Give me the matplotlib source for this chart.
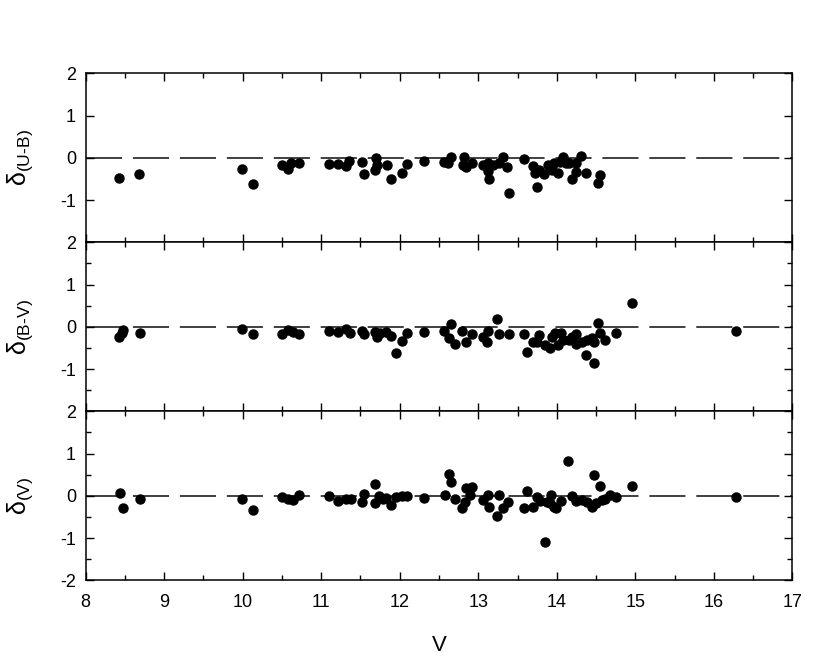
import matplotlib
matplotlib.use("Agg")
import matplotlib.pyplot as plt
from matplotlib.ticker import MultipleLocator, FixedLocator, NullLocator

plt.rcParams['font.family'] = ['Liberation Sans', 'DejaVu Sans']
plt.rcParams['mathtext.fontset'] = 'custom'
plt.rcParams['mathtext.rm'] = 'Liberation Sans'
plt.rcParams['mathtext.it'] = 'Liberation Sans:italic'

# ---- data: delta(U-B) ----
v_ub = [8.43, 8.68, 9.99, 10.13, 10.50, 10.58, 10.61, 10.72, 11.10, 11.21, 11.31, 11.36,
        11.52, 11.54, 11.68, 11.70, 11.71, 11.84, 11.89, 12.03, 12.09, 12.31, 12.56, 12.62,
        12.65, 12.82, 12.81, 12.85, 12.92, 13.06, 13.13, 13.13, 13.14, 13.19, 13.27, 13.32,
        13.36, 13.39, 13.58, 13.70, 13.72, 13.75, 13.77, 13.84, 13.89, 13.94, 13.96, 14.02,
        14.04, 14.08, 14.12, 14.15, 14.20, 14.24, 14.25, 14.31, 14.37, 14.53, 14.55]
d_ub = [-0.47, -0.39, -0.27, -0.62, -0.17, -0.26, -0.13, -0.12, -0.15, -0.15, -0.19, -0.07,
        -0.09, -0.38, -0.29, 0.00, -0.18, -0.16, -0.49, -0.35, -0.15, -0.08, -0.11, -0.13,
        0.01, 0.03, -0.17, -0.21, -0.13, -0.17, -0.13, -0.31, -0.51, -0.17, -0.13, 0.01,
        -0.21, -0.83, -0.04, -0.19, -0.35, -0.68, -0.29, -0.39, -0.17, -0.29, -0.13, -0.37,
        -0.09, 0.03, -0.12, -0.13, -0.51, -0.33, -0.13, 0.04, -0.35, -0.60, -0.41]

# ---- data: delta(B-V) ----
v_bv = [8.43, 8.46, 8.48, 8.69, 9.99, 10.13, 10.50, 10.58, 10.64, 10.72, 11.10, 11.21,
        11.31, 11.37, 11.52, 11.54, 11.68, 11.71, 11.75, 11.83, 11.89, 11.95, 12.03, 12.09,
        12.31, 12.57, 12.65, 12.63, 12.70, 12.79, 12.85, 12.92, 13.06, 13.11, 13.13, 13.24,
        13.26, 13.39, 13.58, 13.62, 13.70, 13.77, 13.75, 13.85, 13.91, 13.94, 13.98, 14.02,
        14.05, 14.08, 14.15, 14.19, 14.25, 14.25, 14.32, 14.38, 14.37, 14.45, 14.48, 14.48,
        14.53, 14.55, 14.62, 14.75, 14.96, 16.28]
d_bv = [-0.25, -0.14, -0.08, -0.14, -0.06, -0.18, -0.18, -0.08, -0.12, -0.17, -0.09, -0.12,
        -0.06, -0.14, -0.09, -0.17, -0.12, -0.25, -0.14, -0.12, -0.22, -0.61, -0.33, -0.14,
        -0.12, -0.10, 0.07, -0.27, -0.41, -0.11, -0.37, -0.17, -0.25, -0.37, -0.11, 0.18,
        -0.17, -0.17, -0.17, -0.60, -0.35, -0.19, -0.35, -0.43, -0.51, -0.23, -0.15, -0.43,
        -0.15, -0.31, -0.31, -0.23, -0.17, -0.41, -0.37, -0.31, -0.67, -0.27, -0.35, -0.86,
        0.10, -0.14, -0.31, -0.15, 0.57, -0.10]

# ---- data: delta(V) ----
v_v = [8.44, 8.48, 8.69, 9.99, 10.13, 10.50, 10.58, 10.64, 10.72, 11.10, 11.21, 11.31,
       11.38, 11.52, 11.54, 11.68, 11.69, 11.74, 11.79, 11.83, 11.89, 11.95, 12.03, 12.09,
       12.31, 12.58, 12.63, 12.65, 12.70, 12.79, 12.83, 12.85, 12.92, 12.90, 13.06, 13.13,
       13.14, 13.24, 13.27, 13.32, 13.38, 13.58, 13.62, 13.70, 13.75, 13.79, 13.85, 13.87,
       13.93, 13.96, 13.99, 13.91, 14.06, 14.14, 14.20, 14.25, 14.32, 14.38, 14.45, 14.48,
       14.50, 14.55, 14.57, 14.62, 14.68, 14.75, 14.96, 16.28]
d_v = [0.07, -0.30, -0.08, -0.08, -0.34, -0.02, -0.08, -0.10, 0.02, 0.00, -0.12, -0.08,
       -0.08, -0.15, 0.04, 0.27, -0.18, 0.00, -0.08, -0.06, -0.22, -0.04, 0.00, 0.00,
       -0.06, 0.02, 0.51, 0.33, -0.08, -0.28, -0.14, 0.18, 0.22, 0.02, -0.10, 0.02,
       -0.26, -0.47, 0.02, -0.30, -0.15, -0.28, 0.12, -0.27, -0.02, -0.12, -1.09, -0.14,
       0.02, -0.26, -0.30, -0.17, -0.12, 0.83, 0.00, -0.12, -0.10, -0.14, -0.26, 0.49,
       -0.17, 0.23, -0.10, -0.08, 0.02, -0.04, 0.24, -0.02]

HY = '\u2010'
panels = [
    (v_ub, d_ub, r'$\mathrm{\delta}_{\mathrm{(U' + HY + r'B)}}$'),
    (v_bv, d_bv, r'$\mathrm{\delta}_{\mathrm{(B' + HY + r'V)}}$'),
    (v_v, d_v, r'$\mathrm{\delta}_{\mathrm{(V)}}$'),
]
y_labels_per_panel = [[2, 1, 0, -1], [2, 1, 0, -1], [2, 1, 0, -1, -2]]

fig = plt.figure(figsize=(8.30, 6.61), dpi=100)
left, right = 85.7 / 830, 792.3 / 830
top_px, bot_px = 73.3, 580.3
ph = (bot_px - top_px) / 3

for i, (xs, ys, lab) in enumerate(panels):
    y0 = 1 - (top_px + (i + 1) * ph) / 661
    ax = fig.add_axes([left, y0, right - left, ph / 661])
    ax.set_xlim(8, 17)
    ax.set_ylim(-2, 2)
    ax.axhline(0, color='#303030', lw=1.3, dashes=(20, 6), zorder=1)
    ax.plot(xs, ys, 'o', color='black', markersize=6.5, zorder=3)
    ax.xaxis.set_major_locator(MultipleLocator(1))
    ax.xaxis.set_minor_locator(MultipleLocator(0.5))
    ax.set_yticks([-2, -1, 0, 1, 2])
    ax.set_yticklabels([str(t) if t in y_labels_per_panel[i] else '' for t in [-2, -1, 0, 1, 2]])
    if i == 0:
        ax.yaxis.set_minor_locator(NullLocator())
    else:
        ax.yaxis.set_minor_locator(MultipleLocator(0.5))
    ax.tick_params(which='both', direction='in', left=True, right=True,
                   top=True, bottom=True, labelsize=13, width=1.0)
    ax.tick_params(which='major', length=5.5)
    ax.tick_params(which='minor', length=3.4)
    ax.tick_params(axis='y', which='major', pad=7)
    ax.tick_params(axis='x', which='major', pad=10)
    if i != 2:
        ax.tick_params(axis='x', labelbottom=False)
    for s in ax.spines.values():
        s.set_linewidth(1.1)
    ax.set_ylabel(lab, fontsize=18)
    ax.yaxis.set_label_coords(-0.072, 0.5)
    if i == 2:
        ax.set_xlabel('V', fontsize=16, labelpad=17)

fig.savefig('out.png', dpi=100)
